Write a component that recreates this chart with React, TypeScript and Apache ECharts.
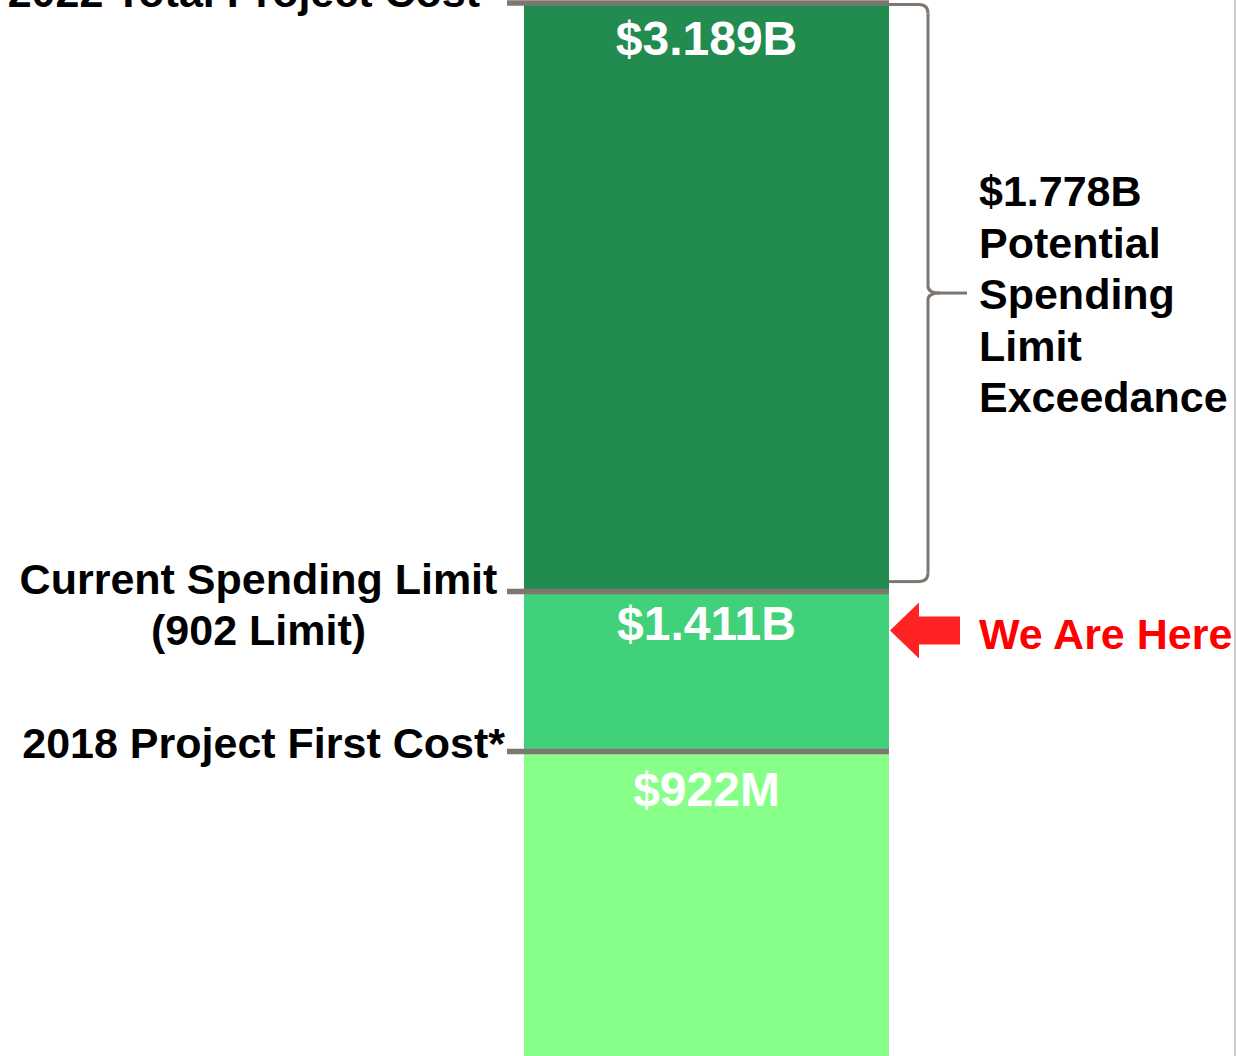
import React, { useEffect, useRef } from "react";
import * as echarts from "echarts";

// ---- Data ($ millions) ----
const categories = ["Project Cost"];
const segmentNames = ["2018 Project First Cost", "Current Spending Limit", "2022 Total Project Cost"];
const segmentValues = [922, 489, 1778]; // stacked segments
const levelValues = [922, 1411, 3189]; // cumulative levels
const valueLabels = ["$922M", "$1.411B", "$3.189B"];
const levelLabels = ["2018 Project First Cost*", "Current Spending Limit\n(902 Limit)", "2022 Total Project Cost"];
const exceedanceLabel = "$1.778B\nPotential\nSpending\nLimit\nExceedance";
const markerLabel = "We Are Here";

// ---- Layout / style ----
const W = 1237;
const H = 1056;
const GRID_LEFT = 524;
const GRID_RIGHT = W - 889;
const GRID_TOP = 3;
const GRID_BOTTOM = 0;
const COLORS = ["#88FF88", "#41D17A", "#228B4F"];
const LABEL_DIST = [14, 9, 11];
const GREY = "#7f776f";
const FONT = '"Liberation Sans", Arial, Helvetica, sans-serif';

export default function App() {
  const ref = useRef<HTMLDivElement>(null);

  useEffect(() => {
    if (!ref.current) return;
    const chart = echarts.init(ref.current, null, { renderer: "svg" });
    chart.setOption({
      animation: false,
      grid: { left: GRID_LEFT, right: GRID_RIGHT, top: GRID_TOP, bottom: GRID_BOTTOM },
      xAxis: { type: "category", data: categories, show: false },
      yAxis: { type: "value", min: 0, max: levelValues[2], show: false, splitLine: { show: false } },
      series: segmentValues.map((v, i) => ({
        name: segmentNames[i],
        type: "bar",
        stack: "total",
        barWidth: "100%",
        data: [v],
        itemStyle: { color: COLORS[i] },
        label: {
          show: true,
          position: "insideTop",
          distance: LABEL_DIST[i],
          formatter: () => valueLabels[i],
          color: "#ffffff",
          fontWeight: "bold",
          fontSize: 48,
          fontFamily: FONT,
        },
      })),
    });

    const yPix = (v: number) => chart.convertToPixel({ yAxisIndex: 0 }, v) as number;
    const barLeft = GRID_LEFT;
    const barRight = W - GRID_RIGHT;
    const y922 = yPix(levelValues[0]);
    const y1411 = yPix(levelValues[1]) + 1.5;
    const yTop = yPix(levelValues[2]);

    const font = `bold 43px ${FONT}`;
    const lineStyle = { stroke: GREY, lineWidth: 5.5 };
    const braceStyle = { stroke: GREY, lineWidth: 3, fill: null };

    const lineX0 = barLeft - 17;
    const hLines = [y922, y1411, yTop].map((y) => ({
      type: "line",
      z: 100,
      shape: { x1: lineX0, y1: y, x2: barRight, y2: y },
      style: lineStyle,
    }));

    // curly brace
    const bx = barRight + 39;
    const tipX = barRight + 78;
    const bTop = yTop + 1.5;
    const bBot = y1411 - 10;
    const bMid = (bTop + bBot) / 2;
    const r = 9;
    const brace = [
      { type: "line", shape: { x1: barRight, y1: bTop, x2: bx - r, y2: bTop } },
      { type: "bezierCurve", shape: { x1: bx - r, y1: bTop, cpx1: bx, cpy1: bTop, x2: bx, y2: bTop + r } },
      { type: "line", shape: { x1: bx, y1: bTop + r, x2: bx, y2: bMid - 7 } },
      { type: "bezierCurve", shape: { x1: bx, y1: bMid - 7, cpx1: bx, cpy1: bMid, x2: bx + 12, y2: bMid } },
      { type: "line", shape: { x1: bx + 12, y1: bMid, x2: tipX, y2: bMid } },
      { type: "bezierCurve", shape: { x1: bx + 12, y1: bMid, cpx1: bx, cpy1: bMid, x2: bx, y2: bMid + 7 } },
      { type: "line", shape: { x1: bx, y1: bMid + 7, x2: bx, y2: bBot - r } },
      { type: "bezierCurve", shape: { x1: bx, y1: bBot - r, cpx1: bx, cpy1: bBot, x2: bx - r, y2: bBot } },
      { type: "line", shape: { x1: bx - r, y1: bBot, x2: barRight, y2: bBot } },
    ].map((e) => ({ ...e, z: 100, style: braceStyle }));

    // arrow
    const ay = y1411 + 39;
    const ax = barRight + 1;
    const arrow = {
      type: "polygon",
      z: 100,
      shape: {
        points: [
          [ax, ay],
          [ax + 29, ay - 28],
          [ax + 29, ay - 14],
          [ax + 70, ay - 14],
          [ax + 70, ay + 14],
          [ax + 29, ay + 14],
          [ax + 29, ay + 28],
        ],
      },
      style: { fill: "#FF2222" },
    };

    const texts = [
      {
        type: "text",
        z: 100,
        x: barLeft - 44,
        y: yTop - 11,
        style: { text: levelLabels[2], font, fill: "#000", textAlign: "right", textVerticalAlign: "middle" },
      },
      {
        type: "text",
        z: 100,
        x: 258.5,
        y: y1411 - 38,
        style: {
          text: levelLabels[1],
          font,
          fill: "#000",
          textAlign: "center",
          textVerticalAlign: "top",
          lineHeight: 51,
        },
      },
      {
        type: "text",
        z: 100,
        x: barLeft - 19,
        y: y922 - 9,
        style: { text: levelLabels[0], font, fill: "#000", textAlign: "right", textVerticalAlign: "middle" },
      },
      {
        type: "text",
        z: 100,
        x: barRight + 90,
        y: bMid + 1,
        style: {
          text: exceedanceLabel,
          font,
          fill: "#000",
          textAlign: "left",
          textVerticalAlign: "middle",
          lineHeight: 51.5,
        },
      },
      {
        type: "text",
        z: 100,
        x: barRight + 90,
        y: ay + 3,
        style: { text: markerLabel, font, fill: "#FF0000", textAlign: "left", textVerticalAlign: "middle" },
      },
    ];

    const edge = {
      type: "rect",
      z: 100,
      shape: { x: W - 3, y: 0, width: 2, height: H },
      style: { fill: "#cccccc" },
    };

    chart.setOption({ graphic: [...hLines, ...brace, arrow, ...texts, edge] });

    return () => chart.dispose();
  }, []);

  return (
    <div
      ref={ref}
      style={{ position: "absolute", left: 0, top: 0, width: W, height: H, background: "#fff" }}
    />
  );
}
